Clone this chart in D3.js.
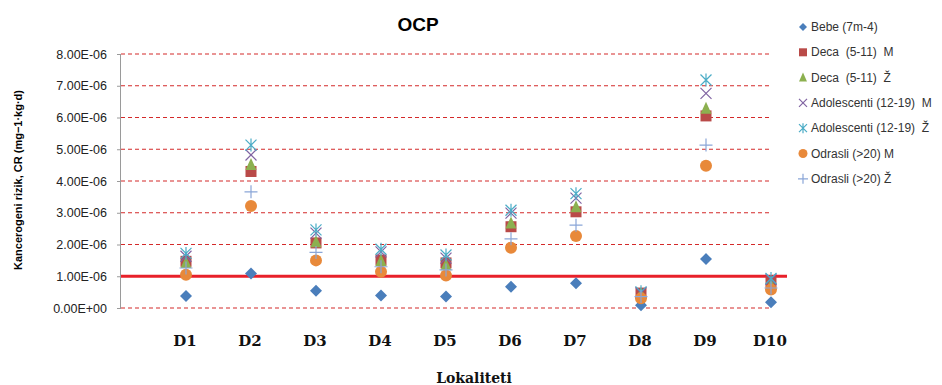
<!DOCTYPE html>
<html><head><meta charset="utf-8">
<script src="https://cdn.jsdelivr.net/npm/d3@7"></script>
<style>
body{margin:0;background:#fff;}
svg text{white-space:pre;}
</style></head>
<body><svg id="c" width="942" height="385"></svg>
<script>
const categories = ["D1","D2","D3","D4","D5","D6","D7","D8","D9","D10"];
const seriesNames = ["Bebe (7m-4)","Deca  (5-11)  M","Deca  (5-11)  Ž","Adolescenti (12-19)  M","Adolescenti (12-19)  Ž","Odrasli (>20) M","Odrasli (>20) Ž"];
// values in units of 1E-06
const bebe      = [0.38,1.09,0.54,0.39,0.36,0.67,0.78,0.09,1.54,0.18];
const decaM     = [1.47,4.30,2.05,1.51,1.42,2.56,3.03,0.47,6.05,0.83];
const decaZ     = [1.43,4.52,2.09,1.50,1.36,2.68,3.19,0.45,6.29,0.74];
const adolM     = [1.63,4.82,2.36,1.77,1.57,2.99,3.46,0.48,6.76,0.90];
const adolZ     = [1.72,5.13,2.46,1.85,1.67,3.08,3.60,0.51,7.18,0.93];
const odrM      = [1.05,3.21,1.50,1.14,1.02,1.90,2.27,0.31,4.48,0.58];
const odrZ      = [1.26,3.66,1.75,1.30,1.20,2.18,2.61,0.36,5.13,0.63];
const yTicks = [0,1,2,3,4,5,6,7,8];
const yTickLabels = ["0.00E+00","1.00E-06","2.00E-06","3.00E-06","4.00E-06","5.00E-06","6.00E-06","7.00E-06","8.00E-06"];
const threshold = 1;

const series = [bebe,decaM,decaZ,adolM,adolZ,odrM,odrZ];
const colors = ["#4a7ebb","#b94a48","#8cb04f","#8064a2","#4bacc6","#e8893a","#8aa6d8"];
const shapes = ["diamond","square","triangle","x","star","circle","plus"];

const svg = d3.select("#c");
const x = d3.scaleLinear().domain([0,10]).range([121,771]);
const y = d3.scaleLinear().domain([0,8]).range([308,54]);

const defs = svg.append("defs");
defs.append("filter").attr("id","blur").attr("x","-5%").attr("y","-200%").attr("width","110%").attr("height","500%")
  .append("feGaussianBlur").attr("stdDeviation",1.4);

// gridline shadows
svg.append("g").selectAll("line").data(yTicks).join("line")
  .attr("x1",123).attr("x2",774).attr("y1",d=>y(d)+3).attr("y2",d=>y(d)+3)
  .attr("stroke","#c4c4c4").attr("stroke-width",3).attr("filter","url(#blur)");
// gridlines
svg.append("g").selectAll("line").data(yTicks).join("line")
  .attr("x1",121).attr("x2",772).attr("y1",d=>y(d)).attr("y2",d=>y(d))
  .attr("stroke","#d42a2a").attr("stroke-width",1.2).attr("stroke-dasharray","4,3");

// y axis
const yAxis = d3.axisLeft(y).tickValues(yTicks).tickFormat((d,i)=>yTickLabels[i]).tickSize(4).tickPadding(10);
const ga = svg.append("g").attr("transform","translate(121,0)").call(yAxis);
ga.select(".domain").attr("stroke","#9a9a9a").attr("d","M-0.5,54V308");
ga.selectAll(".tick line").attr("stroke","#9a9a9a");
ga.selectAll(".tick text").attr("font-family","Liberation Sans, Arial, sans-serif").attr("font-size",12.5).attr("fill","#222");

// threshold line
svg.append("line").attr("x1",121).attr("x2",787).attr("y1",y(threshold)).attr("y2",y(threshold))
  .attr("stroke","#e8202a").attr("stroke-width",3);

// x labels
svg.append("g").selectAll("text").data(categories).join("text")
  .attr("x",(d,i)=>x(i+1)-1).attr("y",346).attr("text-anchor","middle")
  .attr("font-family","DejaVu Serif, serif").attr("font-weight","bold").attr("font-size",15).attr("fill","#111")
  .text(d=>d);

function drawShape(g, shape, color, s){
  const h = s/2;
  if(shape==="diamond") g.append("path").attr("d",`M0,${-h-0.5}L${h+0.5},0L0,${h+0.5}L${-h-0.5},0Z`).attr("fill",color);
  else if(shape==="square") g.append("rect").attr("x",-h).attr("y",-h).attr("width",s).attr("height",s).attr("fill",color);
  else if(shape==="triangle") g.append("path").attr("d",`M0,${-h-1}L${h},${h}L${-h},${h}Z`).attr("fill",color);
  else if(shape==="circle") g.append("circle").attr("r",h+0.5).attr("fill",color);
  else if(shape==="x") g.append("path").attr("d",`M${-h},${-h}L${h},${h}M${-h},${h}L${h},${-h}`).attr("stroke",color).attr("stroke-width",1.2).attr("fill","none");
  else if(shape==="star") g.append("path").attr("d",`M${-h},${-h}L${h},${h}M${-h},${h}L${h},${-h}M0,${-h-1}L0,${h+1}`).attr("stroke",color).attr("stroke-width",1.2).attr("fill","none");
  else if(shape==="plus") g.append("path").attr("d",`M${-h-1},0L${h+1},0M0,${-h-1}L0,${h+1}`).attr("stroke",color).attr("stroke-width",1.2).attr("fill","none");
}

series.forEach((vals,si)=>{
  const g = svg.append("g");
  vals.forEach((v,i)=>{
    const m = g.append("g").attr("transform",`translate(${x(i+1)},${y(v)})`);
    drawShape(m, shapes[si], colors[si], 11);
  });
});

// title
svg.append("text").attr("x",418).attr("y",31).attr("text-anchor","middle")
  .attr("font-family","Liberation Sans, Arial, sans-serif").attr("font-weight","bold").attr("font-size",19).attr("fill","#000").text("OCP");

// axis titles
svg.append("text").attr("x",474).attr("y",383).attr("text-anchor","middle")
  .attr("font-family","DejaVu Serif, serif").attr("font-weight","bold").attr("font-size",14).attr("fill","#111").text("Lokaliteti");
svg.append("text").attr("transform","translate(22,180) rotate(-90)").attr("text-anchor","middle")
  .attr("font-family","Liberation Sans, Arial, sans-serif").attr("font-weight","bold").attr("font-size",11).attr("fill","#000")
  .text("Kancerogeni rizik, CR (mg−1·kg·d)");

// legend
const lg = svg.append("g");
seriesNames.forEach((n,i)=>{
  const yy = 27 + i*25.3;
  const m = lg.append("g").attr("transform",`translate(803,${yy})`);
  drawShape(m, shapes[i], colors[i], i===0?7:8);
  lg.append("text").attr("x",811).attr("y",yy+4).attr("font-family","Liberation Sans, Arial, sans-serif")
    .attr("font-size",12).attr("fill","#333").text(n);
});
</script></body></html>
